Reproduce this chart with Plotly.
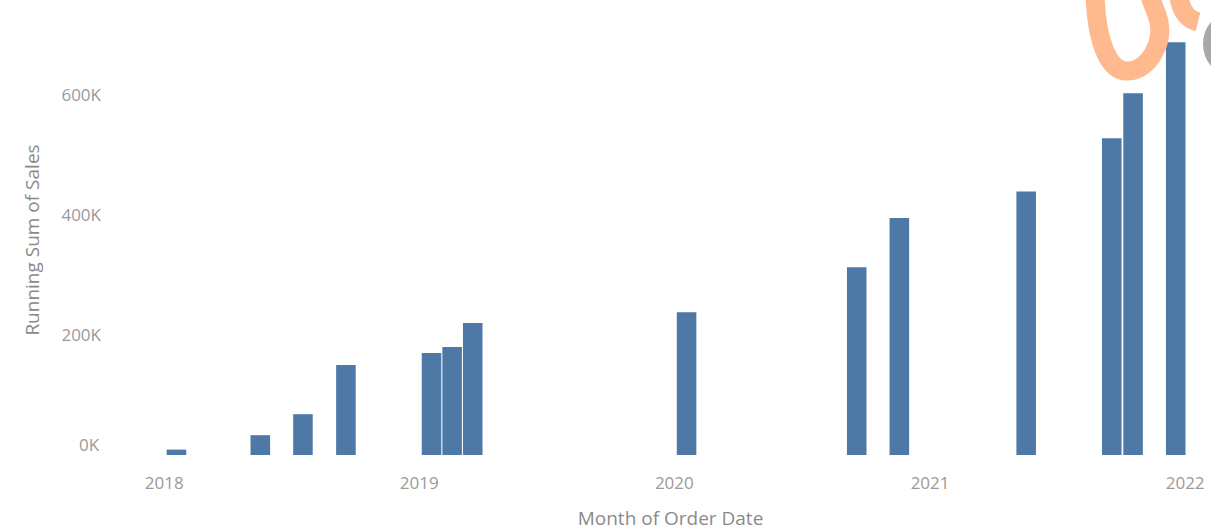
import plotly.graph_objects as go

# Running sum of sales by month of order date
months = [
    "2018-01", "2018-05", "2018-07", "2018-09",
    "2019-01", "2019-02", "2019-03",
    "2020-01", "2020-09", "2020-11",
    "2021-05", "2021-09", "2021-10", "2021-12",
]
running_sales = [
    9000, 33000, 68000, 150000,
    170000, 180000, 220000,
    238000, 313000, 395000,
    439000, 528000, 603000, 688000,
]
y_ticks = [0, 200000, 400000, 600000]
y_tick_text = ["", "200K", "400K", "600K"]
year_ticks = ["2018-01-01", "2019-01-01", "2020-01-01", "2021-01-01", "2022-01-01"]
year_labels = ["2018", "2019", "2020", "2021", "2022"]

BAR = "#4e79a7"
GREY = "#9a9a9a"
TITLE_GREY = "#8a8a8a"
FONT = "Open Sans"
DAY_MS = 86400000

fig = go.Figure(
    go.Bar(
        x=months,
        y=running_sales,
        xperiod="M1",
        xperiodalignment="middle",
        width=28 * DAY_MS,
        offset=-12 * DAY_MS,
        marker=dict(color=BAR, line=dict(width=0)),
    )
)

fig.update_layout(
    width=1211,
    height=531,
    margin=dict(l=130, r=0, t=10, b=61),
    paper_bgcolor="white",
    plot_bgcolor="white",
    showlegend=False,
    font=dict(family=FONT, color=GREY, size=17),
)

fig.update_xaxes(
    type="date",
    range=["2017-11-13", "2022-02-07"],
    tickvals=year_ticks,
    ticktext=year_labels,
    showgrid=False,
    zeroline=False,
    showline=False,
    ticks="",
    ticklabelstandoff=1,
    tickfont=dict(size=17, color=GREY),
    title=dict(text="Month of Order Date", font=dict(size=19, color=TITLE_GREY), standoff=20),
)

fig.update_yaxes(
    range=[-25000, 741667],
    tickvals=y_ticks,
    ticktext=y_tick_text,
    showgrid=False,
    zeroline=False,
    showline=False,
    ticks="",
    ticklabelstandoff=28,
    tickfont=dict(size=17, color=GREY),
    title=dict(text="Running Sum of Sales", font=dict(size=19, color=TITLE_GREY), standoff=16),
)

# Zero label nudged upward so it sits clear of the baseline
fig.add_annotation(
    x=0, xref="paper", y=0, yref="y",
    text="0K", showarrow=False,
    xanchor="right", yanchor="middle",
    xshift=-28, yshift=11,
    font=dict(family=FONT, size=17, color=GREY),
)

# Brand mark in the top-right corner (pixel coordinates from the plot's top-left)
def px(x, y):
    return f"{x - 130},{10 - y}"

mark_path = (
    f"M {px(1095, -8)} "
    f"C {px(1096, 40)} {px(1108, 72)} {px(1128, 71)} "
    f"C {px(1150, 70)} {px(1163, 42)} {px(1159, 22)} "
    f"C {px(1156, 8)} {px(1148, -2)} {px(1150, -10)} "
    f"C {px(1154, -22)} {px(1178, -14)} {px(1180, 2)} "
    f"C {px(1183, 14)} {px(1190, 20)} {px(1198, 22)}"
)
fig.add_shape(
    type="path", path=mark_path,
    xref="paper", yref="paper", xanchor=0, yanchor=1,
    xsizemode="pixel", ysizemode="pixel",
    line=dict(color="#ffb98f", width=19),
    layer="above",
)
fig.add_shape(
    type="circle",
    xref="paper", yref="paper", xanchor=0, yanchor=1,
    xsizemode="pixel", ysizemode="pixel",
    x0=1207 - 130, x1=1267 - 130, y0=10 - 14, y1=10 - 74,
    line=dict(color="#a8a8a8", width=8),
    layer="above",
)

fig.write_html("out.html")
